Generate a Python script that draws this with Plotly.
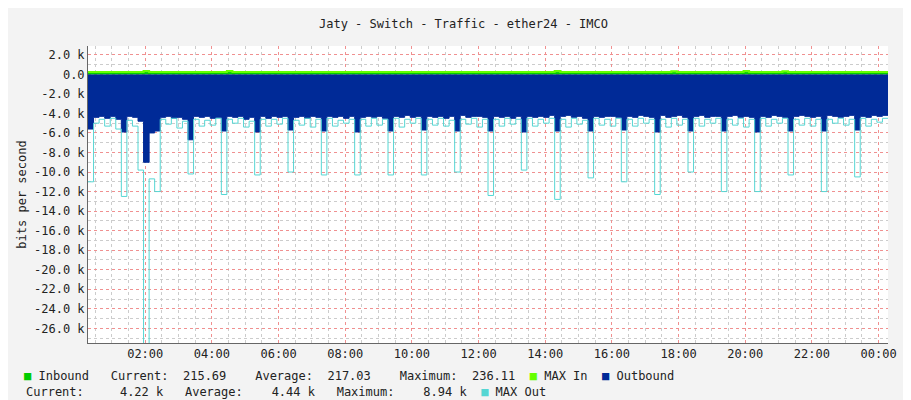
import pandas as pd
import plotly.graph_objects as go

# 10 minute samples starting 00:17, values in kbit/s
start = "2024-05-01 00:17"

inbound = [0.22, 0.21, 0.22, 0.22, 0.21, 0.22, 0.23, 0.22, 0.21, 0.22, 0.22, 0.22] * 12 + [0.22]
max_in = [0.24, 0.23, 0.24, 0.25, 0.24, 0.23, 0.24, 0.24, 0.23, 0.24, 0.25, 0.24] * 12 + [0.24]
max_in[10] = 0.33
max_in[25] = 0.33
max_in[84] = 0.33
max_in[105] = 0.31
max_in[118] = 0.33
max_in[125] = 0.31

outbound = [
    -5.6, -4.4, -4.3, -4.5, -4.3, -4.6, -5.9, -4.3, -4.4, -4.8, -9.0, -6.0,
    -5.8, -4.4, -4.3, -4.5, -4.4, -4.6, -6.7, -4.3, -4.4, -4.3, -4.5, -4.4,
    -5.8, -4.3, -4.4, -4.3, -4.6, -4.4, -5.9, -4.3, -4.5, -4.3, -4.4, -4.3,
    -5.7, -4.4, -4.3, -4.5, -4.3, -4.4, -5.8, -4.3, -4.4, -4.3, -4.5, -4.3,
    -5.9, -4.4, -4.3, -4.4, -4.3, -4.5, -5.8, -4.3, -4.4, -4.2, -4.4, -4.3,
    -5.7, -4.3, -4.4, -4.3, -4.5, -4.3, -5.8, -4.2, -4.4, -4.3, -4.3, -4.4,
    -5.8, -4.3, -4.4, -4.3, -4.5, -4.3, -5.9, -4.3, -4.4, -4.3, -4.4, -4.2,
    -5.8, -4.3, -4.2, -4.4, -4.3, -4.5, -5.8, -4.3, -4.4, -4.3, -4.3, -4.4,
    -5.7, -4.3, -4.4, -4.2, -4.3, -4.4, -5.9, -4.2, -4.4, -4.3, -4.2, -4.4,
    -5.8, -4.3, -4.2, -4.4, -4.3, -4.3, -5.8, -4.3, -4.2, -4.4, -4.3, -4.4,
    -5.9, -4.3, -4.4, -4.2, -4.3, -4.4, -5.8, -4.3, -4.2, -4.3, -4.4, -4.3,
    -5.8, -4.2, -4.3, -4.4, -4.3, -4.2, -5.7, -4.3, -4.4, -4.2, -4.3, -4.2,
    -4.2,
]

max_out = [
    -11.0, -5.0, -4.6, -5.3, -4.5, -5.6, -12.5, -4.7, -5.3, -9.8, -30.0, -10.7,
    -12.0, -4.6, -5.1, -4.5, -5.5, -4.8, -10.2, -4.6, -5.3, -4.7, -5.2, -4.5,
    -12.3, -4.6, -5.0, -4.5, -5.4, -4.8, -10.3, -4.6, -5.3, -4.6, -5.1, -4.5,
    -10.0, -4.7, -5.2, -4.5, -5.4, -4.6, -10.3, -4.5, -5.3, -4.7, -5.0, -4.6,
    -10.3, -4.6, -5.3, -4.5, -5.2, -4.6, -10.3, -4.5, -5.4, -4.6, -5.0, -4.5,
    -10.3, -4.6, -5.2, -4.5, -5.3, -4.7, -10.0, -4.6, -5.1, -4.5, -5.4, -4.6,
    -12.4, -4.6, -5.3, -4.5, -5.1, -4.6, -9.8, -4.5, -5.3, -4.6, -5.0, -4.5,
    -12.8, -4.6, -5.4, -4.5, -5.1, -4.7, -10.6, -4.5, -5.2, -4.6, -5.3, -4.5,
    -11.0, -4.6, -5.3, -4.5, -5.0, -4.6, -12.3, -4.6, -5.4, -4.5, -5.2, -4.6,
    -10.0, -4.5, -5.3, -4.6, -5.0, -4.5, -12.0, -4.6, -5.2, -4.5, -5.4, -4.6,
    -12.0, -4.5, -5.3, -4.6, -5.0, -4.5, -10.3, -4.6, -5.2, -4.5, -5.3, -4.6,
    -12.0, -4.6, -5.0, -4.5, -5.2, -4.6, -10.5, -4.5, -5.3, -4.6, -4.9, -4.5,
    -4.5,
]

times = pd.date_range(start, periods=len(outbound), freq="10min")

def k(vals):
    return [v * 1000 for v in vals]

fig = go.Figure()
fig.add_trace(go.Scatter(x=times, y=k(outbound), mode="lines", line=dict(color="#002A97", width=1, shape="hv"),
                         fill="tozeroy", fillcolor="#002A97", name="Outbound"))
fig.add_trace(go.Scatter(x=times, y=k(max_out), mode="lines", line=dict(color="#55D6D3", width=1, shape="hv"),
                         name="MAX Out"))
fig.add_trace(go.Scatter(x=times, y=k(inbound), mode="lines", line=dict(color="#00CC00", width=1, shape="hv"),
                         fill="tozeroy", fillcolor="#00CC00", name="Inbound"))
fig.add_trace(go.Scatter(x=times, y=k(max_in), mode="lines", line=dict(color="#66FF00", width=2, shape="hv"),
                         name="MAX In"))

tickvals = [v * 1000 for v in range(2, -27, -2)]
ticktext = ["0.0" if v == 0 else f"{v / 1000:.1f} k" for v in tickvals]

mono = "DejaVu Sans Mono"
fig.update_layout(
    width=911, height=400,
    margin=dict(l=80, r=31, t=38, b=65, autoexpand=False),
    paper_bgcolor="#F3F3F3", plot_bgcolor="white",
    showlegend=False,
    font=dict(family=mono, size=12, color="#222"),
    title=dict(text="Jaty - Switch - Traffic - ether24 - IMCO", x=0.5, y=0.97, xanchor="center",
               font=dict(family=mono, size=12, color="#222")),
)
fig.update_xaxes(
    range=[times[0], times[-1]], tickformat="%H:%M", dtick=2 * 3600 * 1000,
    tick0="2024-05-01 00:00", showgrid=True, gridcolor="#F09090", griddash="dot",
    minor=dict(dtick=30 * 60 * 1000, showgrid=True, gridcolor="#CCCCCC", griddash="dot"),
    showline=True, linecolor="#666", ticks="", zeroline=False, automargin=False,
    tickfont=dict(size=12),
)
fig.update_yaxes(
    range=[-27500, 2900], tickvals=tickvals, ticktext=ticktext,
    showgrid=True, gridcolor="#F09090", griddash="dot",
    minor=dict(tickvals=[v * 1000 for v in range(2, -28, -1)], showgrid=True, gridcolor="#CCCCCC", griddash="dot"),
    showline=True, linecolor="#666", ticks="", zeroline=False, automargin=False,
    tickfont=dict(size=12),
    title=dict(text="bits per second", font=dict(family=mono, size=12), standoff=4),
)

def sq(c):
    return f"<span style='color:{c}'>■</span>"

nb = "\u00a0"
line1 = (sq("#00CC00") + " Inbound   Current:  215.69    Average:  217.03    Maximum:  236.11  "
         + sq("#66FF00") + " MAX In  " + sq("#002A97") + " Outbound").replace(" ", nb)
line2 = ("Current:     4.22 k   Average:    4.44 k   Maximum:    8.94 k  " + sq("#55D6D3") + " MAX Out").replace(" ", nb)
line1 = line1.replace("<span" + nb, "<span ")
line2 = line2.replace("<span" + nb, "<span ")

fig.add_annotation(text=line1, xref="paper", yref="paper", x=(14 - 80) / 800, y=(335 - 368) / 297,
                   xanchor="left", yanchor="middle", showarrow=False, font=dict(family=mono, size=12, color="#222"))
fig.add_annotation(text=line2, xref="paper", yref="paper", x=(16 - 80) / 800, y=(335 - 384) / 297,
                   xanchor="left", yanchor="middle", showarrow=False, font=dict(family=mono, size=12, color="#222"))
fig.add_annotation(text="RRDTOOL / TOBI OETIKER", xref="paper", yref="paper", x=(902 - 80) / 800, y=(335 - 60) / 297,
                   xanchor="center", yanchor="middle", textangle=90, showarrow=False,
                   font=dict(family=mono, size=8, color="#999"))

fig.write_html("out.html")
